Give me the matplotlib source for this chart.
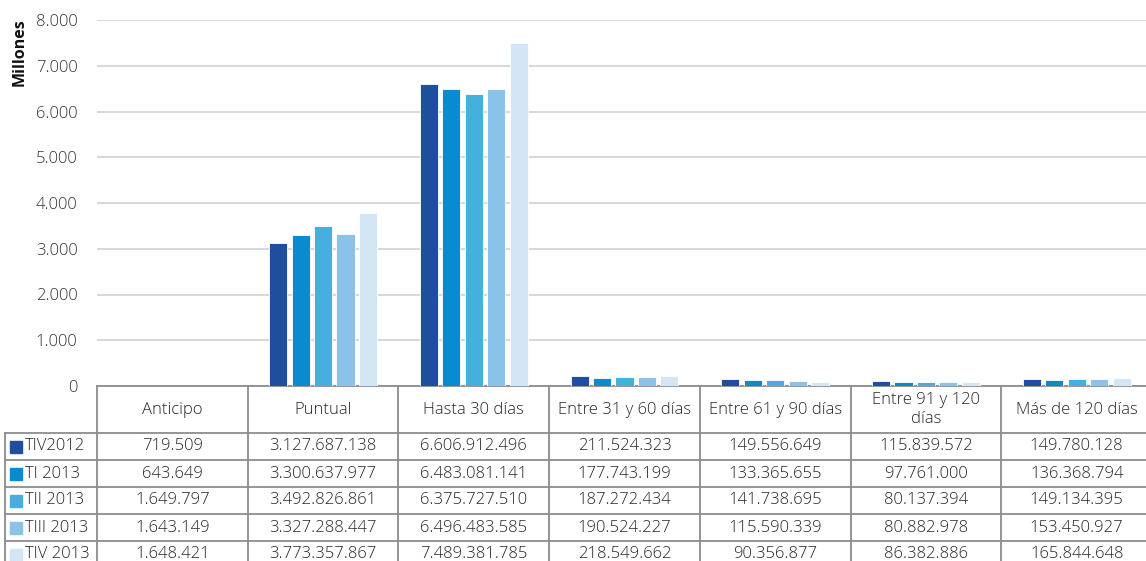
import matplotlib
matplotlib.use('Agg')
import matplotlib.pyplot as plt
import matplotlib.transforms as mtransforms
import numpy as np

plt.rcParams['font.family'] = ['Open Sans', 'DejaVu Sans']
plt.rcParams['font.weight'] = 'light'

categories = ['Anticipo', 'Puntual', 'Hasta 30 días', 'Entre 31 y 60 días',
              'Entre 61 y 90 días', 'Entre 91 y 120\ndías', 'Más de 120 días']
series = ['TIV2012', 'TI 2013', 'TII 2013', 'TIII 2013', 'TIV 2013']
tiv2012 = [719509, 3127687138, 6606912496, 211524323, 149556649, 115839572, 149780128]
ti2013 = [643649, 3300637977, 6483081141, 177743199, 133365655, 97761000, 136368794]
tii2013 = [1649797, 3492826861, 6375727510, 187272434, 141738695, 80137394, 149134395]
tiii2013 = [1643149, 3327288447, 6496483585, 190524227, 115590339, 80882978, 153450927]
tiv2013 = [1648421, 3773357867, 7489381785, 218549662, 90356877, 86382886, 165844648]
yticks = [0, 1000, 2000, 3000, 4000, 5000, 6000, 7000, 8000]
ytick_labels = ['0', '1.000', '2.000', '3.000', '4.000', '5.000', '6.000', '7.000', '8.000']

colors = ['#1f4e9f', '#0a8ad0', '#47afdf', '#89c3e8', '#d3e6f5']
all_series = [tiv2012, ti2013, tii2013, tiii2013, tiv2013]


def fmt(v):
    return f'{v:,}'.replace(',', '.')


W, H = 1146, 561
fig = plt.figure(figsize=(W / 100, H / 100), dpi=100)
ax = fig.add_axes([97 / W, (H - 386) / H, 1055 / W, 366 / H])

x = np.arange(len(categories))
bw = 0.12
pitch = 0.149
for i, (vals, c) in enumerate(zip(all_series, colors)):
    ax.bar(x + (i - 2) * pitch, np.array(vals) / 1e6, width=bw, color=c,
           edgecolor='white', linewidth=0.6, zorder=3)

ax.set_xlim(-0.5, len(categories) - 0.5)
ax.set_ylim(0, 8000)
ax.set_yticks(yticks)
ax.set_yticklabels(ytick_labels, fontsize=12, color='#333333')
ax.set_xticks([])
ax.tick_params(axis='y', length=0, pad=14)
ax.yaxis.grid(True, color='#d9d9d9', linewidth=1.5, zorder=0)
for s in ax.spines.values():
    s.set_visible(False)
fig.text(20 / W, (H - 52) / H, 'Millones', rotation=90, fontsize=11.5,
         fontweight='bold', ha='center', va='center', color='#111111')

# data table below the axis
tr = mtransforms.blended_transform_factory(ax.transData, fig.transFigure)
line_kw = dict(color='#8c8c8c', linewidth=1.3, clip_on=False)
px_per_cat = 1055 / len(categories)
x_left = -0.5 - (97 - 5) / px_per_cat
x_right = len(categories) - 0.5
row_edges = [386, 433, 460, 487, 514, 541, 568]
yf = [(H - r) / H for r in row_edges]

ax.plot([-0.5, x_right], [yf[0], yf[0]], transform=tr, **line_kw)
for r in yf[1:]:
    ax.plot([x_left, x_right], [r, r], transform=tr, **line_kw)
for k in range(len(categories) + 1):
    ax.plot([k - 0.5, k - 0.5], [yf[0], yf[-1]], transform=tr, **line_kw)
ax.plot([x_left, x_left], [yf[1], yf[-1]], transform=tr, **line_kw)

for j, cat in enumerate(categories):
    ax.text(j, (yf[0] + yf[1]) / 2, cat, transform=tr, ha='center', va='center',
            fontsize=12, color='#262626', linespacing=1.25)

for i, (name, vals, c) in enumerate(zip(series, all_series, colors)):
    yc = (yf[i + 1] + yf[i + 2]) / 2
    fig.patches.append(plt.Rectangle((10 / W, yc - 6 / H), 12 / W, 12 / H,
                                     transform=fig.transFigure, color=c))
    fig.text(25 / W, yc, name, ha='left', va='center', fontsize=12, color='#262626')
    for j, v in enumerate(vals):
        ax.text(j, yc, fmt(v), transform=tr, ha='center', va='center',
                fontsize=12, color='#262626')

fig.savefig('out.png', dpi=100)
